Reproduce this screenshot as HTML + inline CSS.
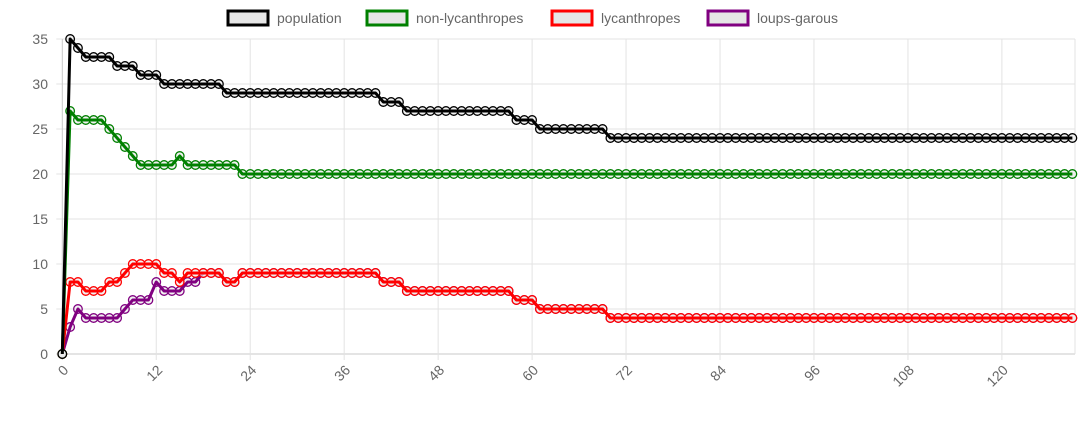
<!DOCTYPE html>
<html><head><meta charset="utf-8"><style>
body{margin:0;background:#fff;}
svg{display:block;font-family:"Liberation Sans",Arial,sans-serif;}
</style></head><body>
<svg id="chart" width="1080" height="431" viewBox="0 0 1080 431"></svg>
<script>
const seriesNames=["population","non-lycanthropes","lycanthropes","loups-garous"];
const seriesColors=["#000000","#008000","#ff0000","#800080"];
const popHead=[0,35,34,33,33,33,33,32,32,32,31,31,31,30,30,30,30,30,30,30,30];
const popSteps=[[29,20],[28,3],[27,14],[26,3],[25,9],[24,60]];
const nonHead=[0,27,26,26,26,26,25,24,23,22,21,21,21,21,21,22,21,21,21,21,21,21,21];
const nonTailValue=20;
const loupHead=[0,3,5,4,4,4,4,4,5,6,6,6,8,7,7,7,8,8];
const yTicks=[0,5,10,15,20,25,30,35];
const xTicks=[0,12,24,36,48,60,72,84,96,108,120];
const N=130;

const population=popHead.slice();
popSteps.forEach(s=>{for(let i=0;i<s[1];i++)population.push(s[0]);});
population.length=N;
const non=nonHead.slice();while(non.length<N)non.push(nonTailValue);
const lyc=population.map((p,i)=>p-non[i]);
const loups=loupHead.slice();for(let i=loups.length;i<N;i++)loups.push(lyc[i]);

const L=62.3,R=1075,T=39,B=354,step=7.83;
const xs=i=>L+i*step, ys=v=>B-(B-T)*v/35;
const svg=document.getElementById('chart');const NS="http://www.w3.org/2000/svg";
function mk(t,a,p){const e=document.createElementNS(NS,t);for(const k in a)e.setAttribute(k,a[k]);(p||svg).appendChild(e);return e;}
const grid=mk('g',{});


yTicks.forEach(v=>{
  mk('line',{x1:L-6,x2:R,y1:ys(v),y2:ys(v),stroke:v===0?'#c8c8c8':'#e3e3e3','stroke-width':1},grid);
  const t=mk('text',{x:48,y:ys(v)+5,'text-anchor':'end','font-size':14,fill:'#666'});
  
  
  t.textContent=v;
});
xTicks.forEach(v=>{
  mk('line',{x1:xs(v),x2:xs(v),y1:T,y2:B+6,stroke:v===0?'#c8c8c8':'#e3e3e3','stroke-width':1},grid);
  const x=xs(v)+7,y=B+17;
  const t=mk('text',{x:x,y:y,'text-anchor':'end','font-size':14,fill:'#666',transform:`rotate(-45 ${x} ${y})`});
  
  
  t.textContent=v;
});
mk('line',{x1:R,x2:R,y1:T,y2:B,stroke:'#e3e3e3'},grid);
const data=[population,non,lyc,loups];
for(let s=3;s>=0;s--){
  const g=mk('g',{});
  
  
  const d=data[s].map((v,i)=>(i?'L':'M')+xs(i).toFixed(2)+' '+ys(v).toFixed(2)).join(' ');
  data[s].forEach((v,i)=>{
    const c=mk('circle',{cx:xs(i),cy:ys(v),r:4.3,fill:'rgba(235,235,235,0.7)',stroke:seriesColors[s],'stroke-width':1.3},g);
    
    
  });
  mk('path',{d:d,fill:'none',stroke:seriesColors[s],'stroke-width':3,'stroke-linejoin':'round'},g);
}
const legX=[228,367,552,708],legW=[40,40,40,40];
seriesNames.forEach((n,i)=>{
  const g=mk('g',{});
  
  
  mk('rect',{x:legX[i],y:11,width:legW[i],height:14,fill:'#e6e6e6',stroke:seriesColors[i],'stroke-width':3},g);
  const t=mk('text',{x:legX[i]+legW[i]+9,y:23,'font-size':14,fill:'#666'},g);
  t.textContent=n;
});
</script>
</body></html>
